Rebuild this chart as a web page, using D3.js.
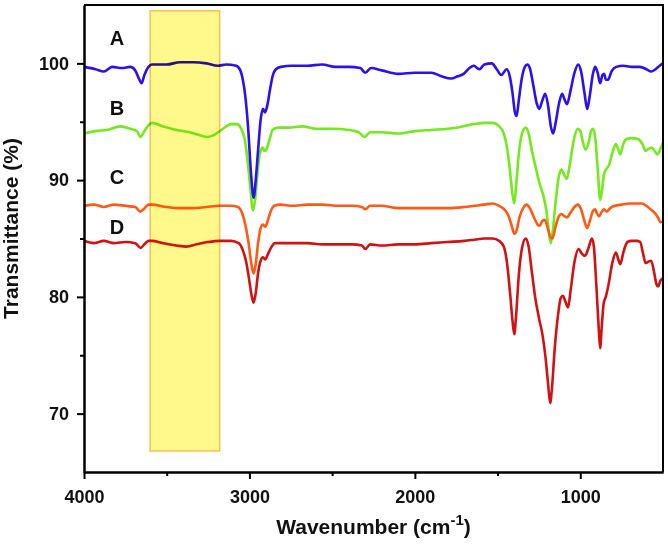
<!DOCTYPE html>
<html>
<head>
<meta charset="utf-8">
<script src="https://cdn.jsdelivr.net/npm/d3@7"></script>
<style>
  body { margin: 0; background: #fff; }
  svg { display: block; font-family: "Liberation Sans", Arial, sans-serif; }
  .axis path, .axis line { stroke: #000; stroke-width: 2; }
  .axis text { font-size: 18px; font-weight: bold; fill: #111; }
</style>
</head>
<body>
<script>
// FTIR spectra, transmittance vs wavenumber

const seriesA = [[4000,99.7],[3930,99.5],[3880,99.3],[3830,99.7],[3770,99.6],[3720,99.7],[3690,99.4],[3665,98.6],[3652,98.3],[3635,99.0],[3610,99.7],[3590,99.9],[3500,99.9],[3420,100.1],[3340,100.1],[3260,100.0],[3190,99.8],[3140,99.9],[3080,99.8],[3055,99.4],[3040,98.6],[3025,97.2],[3008,94.5],[2990,90.5],[2975,88.5],[2962,90],[2948,92.5],[2932,95.2],[2918,96.1],[2906,95.8],[2892,96.4],[2875,97.8],[2860,98.9],[2840,99.5],[2810,99.7],[2740,99.8],[2650,99.8],[2560,99.9],[2480,99.7],[2400,99.7],[2330,99.6],[2300,99.2],[2265,99.6],[2200,99.4],[2100,99.1],[2000,99.2],[1900,99.2],[1840,98.9],[1780,98.7],[1740,98.9],[1705,99.1],[1670,99.6],[1645,99.8],[1610,99.5],[1580,99.9],[1535,100.0],[1505,99.5],[1478,99.0],[1445,99.5],[1425,98.8],[1410,97.5],[1395,95.8],[1385,95.5],[1372,96.8],[1355,98.6],[1335,99.7],[1320,99.9],[1305,99.6],[1285,98.2],[1262,96.5],[1248,96.1],[1230,96.8],[1212,97.4],[1195,96.4],[1178,94.6],[1164,94.0],[1148,95.0],[1128,96.6],[1110,97.4],[1095,96.9],[1080,96.5],[1060,97.6],[1035,99.2],[1013,99.9],[995,99.3],[975,97.5],[958,96.1],[942,97.3],[925,99.0],[910,99.7],[895,99.2],[880,98.3],[866,99.0],[856,99.1],[845,98.6],[832,98.6],[812,99.3],[783,99.7],[740,99.8],[690,99.7],[640,99.7],[600,99.5],[572,99.3],[545,99.5],[520,99.8],[500,100.0]];

const seriesB = [[4000,94.0],[3930,94.2],[3860,94.3],[3780,94.6],[3720,94.4],[3680,94.2],[3658,93.7],[3635,94.2],[3610,94.7],[3590,94.9],[3520,94.6],[3440,94.3],[3360,94.1],[3290,93.8],[3256,93.7],[3210,93.9],[3160,94.4],[3110,94.8],[3075,94.8],[3050,94.4],[3030,93.6],[3012,91.8],[2995,89.4],[2978,87.4],[2965,88.4],[2950,90.8],[2935,92.4],[2920,92.8],[2908,92.5],[2895,92.7],[2878,93.5],[2860,94.3],[2830,94.5],[2760,94.5],[2680,94.6],[2600,94.4],[2500,94.4],[2400,94.3],[2340,94.1],[2305,93.7],[2270,94.1],[2200,94.1],[2100,94.0],[2000,94.2],[1900,94.3],[1800,94.4],[1740,94.5],[1680,94.7],[1640,94.8],[1580,94.9],[1530,94.9],[1490,94.6],[1460,93.9],[1440,92.5],[1425,90.8],[1410,88.8],[1399,88.0],[1388,89.5],[1372,92.2],[1352,94.0],[1330,94.5],[1312,94.0],[1295,92.7],[1273,91.3],[1248,89.8],[1222,88.6],[1205,87.4],[1190,85.6],[1178,84.6],[1165,85.8],[1148,88.3],[1130,90.3],[1114,90.9],[1098,90.5],[1082,90.1],[1065,91.2],[1040,93.4],[1015,94.4],[1000,94.2],[985,93.3],[968,92.6],[950,93.2],[935,94.2],[922,94.4],[908,93.4],[894,90.8],[880,88.3],[868,89.2],[855,90.6],[840,91.0],[826,91.3],[805,92.4],[785,93.1],[770,92.6],[758,92.2],[742,93.0],[722,93.5],[690,93.6],[650,93.5],[625,93.1],[605,92.5],[585,92.7],[570,92.8],[550,92.5],[535,92.2],[518,92.6],[500,93.2]];

const seriesC = [[4000,87.8],[3940,87.9],[3880,87.7],[3820,87.9],[3750,87.8],[3690,87.7],[3660,87.3],[3640,87.5],[3610,87.9],[3590,87.9],[3500,87.7],[3420,87.6],[3340,87.6],[3260,87.7],[3180,87.8],[3110,87.8],[3070,87.7],[3045,87.2],[3025,86.2],[3005,84.6],[2988,82.8],[2975,82.0],[2962,82.8],[2948,84.6],[2932,85.9],[2918,86.2],[2905,86.0],[2890,86.5],[2872,87.3],[2850,87.8],[2815,87.9],[2740,87.8],[2650,87.9],[2560,87.9],[2460,87.8],[2380,87.8],[2320,87.7],[2300,87.5],[2270,87.8],[2200,87.8],[2100,87.6],[2000,87.6],[1900,87.6],[1800,87.6],[1700,87.7],[1640,87.8],[1580,87.9],[1530,88.0],[1490,87.8],[1460,87.5],[1435,87.0],[1415,86.1],[1398,85.4],[1385,85.7],[1368,86.8],[1345,87.6],[1326,87.9],[1305,87.6],[1280,86.8],[1258,86.2],[1245,86.1],[1230,86.5],[1215,86.6],[1195,85.8],[1180,85.1],[1168,85.0],[1150,86.0],[1130,86.9],[1114,87.1],[1095,86.9],[1080,86.8],[1060,87.2],[1035,87.7],[1015,87.9],[995,87.5],[975,86.5],[958,85.9],[940,86.6],[922,87.4],[910,87.5],[898,87.1],[886,86.9],[870,87.3],[856,87.5],[840,87.3],[820,87.6],[790,87.8],[750,87.9],[700,88.0],[660,88.0],[626,88.0],[600,87.8],[575,87.5],[550,87.2],[530,86.8],[515,86.4],[500,86.5]];

const seriesD = [[4000,84.8],[3940,84.6],[3880,84.8],[3820,84.6],[3750,84.7],[3690,84.6],[3658,84.2],[3635,84.5],[3610,84.8],[3590,84.8],[3520,84.6],[3440,84.4],[3380,84.3],[3320,84.5],[3250,84.7],[3180,84.8],[3110,84.8],[3065,84.6],[3040,84.0],[3020,83.0],[3003,81.6],[2988,80.2],[2975,79.5],[2962,80.3],[2948,82.0],[2932,83.1],[2918,83.4],[2905,83.2],[2890,83.6],[2870,84.2],[2845,84.6],[2810,84.6],[2740,84.6],[2650,84.6],[2560,84.5],[2460,84.5],[2380,84.5],[2320,84.4],[2300,84.1],[2270,84.5],[2200,84.4],[2100,84.5],[2000,84.5],[1900,84.6],[1800,84.7],[1700,84.8],[1640,84.9],[1580,85.0],[1530,85.0],[1490,84.8],[1462,84.3],[1442,82.8],[1425,80.4],[1410,78.0],[1399,76.8],[1388,78.4],[1372,81.8],[1352,84.2],[1330,85.0],[1312,84.3],[1295,82.4],[1273,80.0],[1250,78.2],[1228,76.7],[1210,74.8],[1195,72.6],[1182,70.9],[1170,72.4],[1155,75.5],[1135,78.4],[1118,79.9],[1105,80.1],[1090,79.6],[1074,79.1],[1058,80.6],[1035,83.0],[1010,84.1],[990,83.7],[972,83.5],[950,84.2],[930,85.0],[918,84.3],[903,81.0],[888,77.2],[880,75.6],[870,77.5],[858,79.5],[846,80.0],[830,81.0],[805,83.0],[785,83.8],[770,83.2],[758,82.8],[740,83.8],[715,84.7],[690,84.8],[660,84.8],[638,84.7],[622,83.8],[605,82.9],[590,83.0],[572,83.1],[555,82.2],[540,81.1],[530,80.9],[515,81.4],[500,81.6]];

const seriesNames = ['A', 'B', 'C', 'D'];
const seriesColors = ['#2a10f2', '#72ea1c', '#ff5a14', '#d21212'];
const labelY = [101.6, 95.6, 89.7, 85.4];   // where the letters sit
const labelX = 3800;
const xMajor = [4000, 3000, 2000, 1000];
const xMinor = [3500, 2500, 1500];
const yMajor = [70, 80, 90, 100];
const yMinor = [75, 85, 95];
const band = [3600, 3180];   // highlighted region

const width = 668, height = 544;
const m = { left: 84, right: 663, top: 5, bottom: 472 };

const svg = d3.select('body').append('svg')
  .attr('width', width)
  .attr('height', height);

const x = d3.scaleLinear().domain([4000, 500]).range([m.left, m.right]);
const y = d3.scaleLinear().domain([65, 105]).range([m.bottom, m.top]);

const line = d3.line()
  .x(d => x(d[0]))
  .y(d => y(d[1]))
  .curve(d3.curveMonotoneX);

const all = [seriesA, seriesB, seriesC, seriesD];
// draw order: B under A, then C, D
[1, 0, 2, 3].forEach(i => {
  svg.append('path')
    .datum(all[i])
    .attr('fill', 'none')
    .attr('stroke', seriesColors[i])
    .attr('stroke-width', 2.6)
    .attr('stroke-linejoin', 'round')
    .attr('d', line);
});

// yellow band on top, multiplied so the lines show through darker
svg.append('rect')
  .attr('x', x(band[0]))
  .attr('width', x(band[1]) - x(band[0]))
  .attr('y', y(104.5))
  .attr('height', y(66.8) - y(104.5))
  .attr('fill', '#fff98c')
  .attr('stroke', '#f3c24a')
  .attr('stroke-width', 1.5)
  .style('mix-blend-mode', 'multiply');

// labels
svg.selectAll('.lbl')
  .data(seriesNames)
  .enter()
  .append('text')
  .attr('class', 'lbl')
  .attr('x', x(labelX))
  .attr('y', (d, i) => y(labelY[i]))
  .attr('text-anchor', 'middle')
  .attr('font-size', 20)
  .attr('font-weight', 'bold')
  .attr('fill', '#111')
  .text(d => d);

// axes
const xAxis = d3.axisBottom(x).tickValues(xMajor).tickFormat(d3.format('d'))
  .tickSizeInner(7).tickSizeOuter(0).tickPadding(11);
svg.append('g').attr('class', 'axis')
  .attr('transform', `translate(0,${m.bottom})`)
  .call(xAxis);
svg.append('g').attr('class', 'axis')
  .attr('transform', `translate(0,${m.bottom})`)
  .call(d3.axisBottom(x).tickValues(xMinor).tickFormat('').tickSizeInner(4).tickSizeOuter(0));

const yAxis = d3.axisLeft(y).tickValues(yMajor).tickFormat(d3.format('d'))
  .tickSizeInner(7).tickSizeOuter(0).tickPadding(8);
svg.append('g').attr('class', 'axis')
  .attr('transform', `translate(${m.left},0)`)
  .call(yAxis);
svg.append('g').attr('class', 'axis')
  .attr('transform', `translate(${m.left},0)`)
  .call(d3.axisLeft(y).tickValues(yMinor).tickFormat('').tickSizeInner(4).tickSizeOuter(0));

// frame top and right
svg.append('path')
  .attr('d', `M${m.left},${m.top}H${m.right}V${m.bottom}`)
  .attr('fill', 'none')
  .attr('stroke', '#000')
  .attr('stroke-width', 2);

// axis titles
const xt = svg.append('text')
  .attr('x', (m.left + m.right) / 2)
  .attr('y', 534)
  .attr('text-anchor', 'middle')
  .attr('font-size', 21)
  .attr('font-weight', 'bold')
  .attr('fill', '#111');
xt.append('tspan').text('Wavenumber (cm');
xt.append('tspan').attr('font-size', 15).attr('dy', -9).text('-1');
xt.append('tspan').attr('dy', 9).text(')');

svg.append('text')
  .attr('transform', `translate(18,${(135 + 322) / 2}) rotate(-90)`)
  .attr('text-anchor', 'middle')
  .attr('font-size', 21)
  .attr('font-weight', 'bold')
  .attr('fill', '#111')
  .text('Transmittance (%)');
</script>
</body>
</html>
